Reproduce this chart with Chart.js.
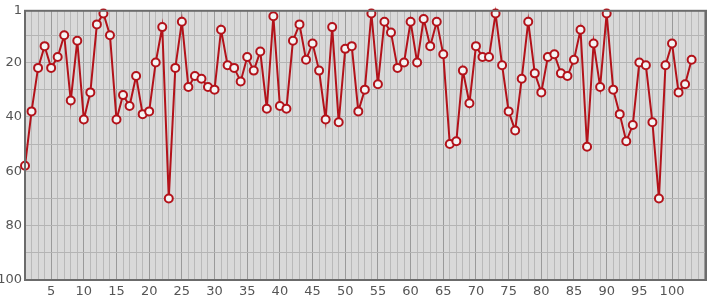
<!DOCTYPE html>
<html>
<head>
<meta charset="utf-8">
<script src="https://cdn.jsdelivr.net/npm/chart.js@4/dist/chart.umd.min.js"></script>
<style>
  html, body { margin: 0; padding: 0; background: #fff; }
  #wrap { width: 715px; height: 300px; position: relative; }
</style>
</head>
<body>
<div id="wrap"><canvas id="chart"></canvas></div>
<script>
// values, one per position 1..103
const positions = Array.from({ length: 103 }, (_, i) => i + 1);
const ranks = [
  58, 38, 22, 14, 22, 18, 10, 34, 12, 41,
  31, 6, 2, 10, 41, 32, 36, 25, 39, 38,
  20, 7, 70, 22, 5, 29, 25, 26, 29, 30,
  8, 21, 22, 27, 18, 23, 16, 37, 3, 36,
  37, 12, 6, 19, 13, 23, 41, 7, 42, 15,
  14, 38, 30, 2, 28, 5, 9, 22, 20, 5,
  20, 4, 14, 5, 17, 50, 49, 23, 35, 14,
  18, 18, 2, 21, 38, 45, 26, 5, 24, 31,
  18, 17, 24, 25, 19, 8, 51, 13, 29, 2,
  30, 39, 49, 43, 20, 21, 42, 70, 21, 13,
  31, 28, 19,
];
const xLabels = [5, 10, 15, 20, 25, 30, 35, 40, 45, 50, 55, 60, 65, 70, 75, 80, 85, 90, 95, 100];
const yTicks = [1, 10, 20, 30, 40, 50, 60, 70, 80, 90, 100];
const yLabels = [1, 20, 40, 60, 80, 100];
const X_MAX = 105.2;

const plotFrame = {
  id: 'plotFrame',
  beforeDraw(chart) {
    const { ctx, chartArea: a } = chart;
    ctx.save();
    ctx.fillStyle = '#d9d9d9';
    ctx.fillRect(a.left, a.top, a.right - a.left, a.bottom - a.top);
    ctx.restore();
  },
  afterDatasetsDraw(chart) {
    const { ctx, chartArea: a } = chart;
    ctx.save();
    ctx.strokeStyle = '#6b6b6b';
    ctx.lineWidth = 2;
    ctx.strokeRect(a.left, a.top, a.right - a.left, a.bottom - a.top);
    ctx.restore();
  },
};

Chart.defaults.font.family = '"DejaVu Sans", sans-serif';
Chart.defaults.font.size = 13;
Chart.defaults.color = '#555';

new Chart(document.getElementById('chart'), {
  type: 'line',
  data: {
    datasets: [{
      data: positions.map((p, i) => ({ x: p, y: ranks[i] })),
      borderColor: '#b3121a',
      borderWidth: 2,
      pointRadius: 4,
      pointBorderWidth: 2,
      pointBackgroundColor: '#f4f4f4',
      pointBorderColor: '#b3121a',
      tension: 0,
      clip: false,
    }],
  },
  options: {
    responsive: true,
    maintainAspectRatio: false,
    animation: false,
    layout: { padding: { top: 10, right: 9, left: 0, bottom: 0 } },
    plugins: { legend: { display: false }, tooltip: { enabled: false } },
    scales: {
      x: {
        type: 'linear',
        min: 1,
        max: X_MAX,
        afterBuildTicks: s => { s.ticks = positions.concat([104, 105]).map(v => ({ value: v })); },
        afterFit: s => { s.height = 20; },
        grid: {
          color: c => (c.tick && c.tick.value % 5 === 0 ? '#9a9a9a' : '#b9b9b9'),
          lineWidth: 1,
          drawTicks: false,
        },
        border: { display: false },
        ticks: {
          autoSkip: false,
          maxRotation: 0,
          padding: 4,
          callback: v => (xLabels.includes(v) ? v : ''),
        },
      },
      y: {
        type: 'linear',
        reverse: true,
        min: 1,
        max: 100,
        afterBuildTicks: s => { s.ticks = yTicks.map(v => ({ value: v })); },
        afterFit: s => { s.width = 25; },
        grid: { color: '#b4b4b4', lineWidth: 1, drawTicks: false },
        border: { display: false },
        ticks: {
          autoSkip: false,
          padding: 3,
          callback: v => (yLabels.includes(v) ? v : ''),
        },
      },
    },
  },
  plugins: [plotFrame],
});
</script>
</body>
</html>
